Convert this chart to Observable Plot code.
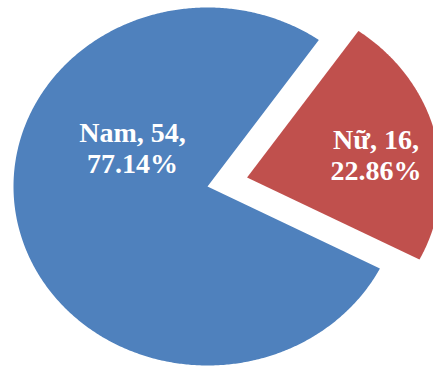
<!DOCTYPE html>
<html>
<head>
<meta charset="utf-8">
<script src="https://cdn.jsdelivr.net/npm/d3@7"></script>
<script src="https://cdn.jsdelivr.net/npm/@observablehq/plot@0.6"></script>
<style>
  html, body { margin: 0; padding: 0; background: #fff; }
  #chart svg { display: block; }
</style>
</head>
<body>
<div id="chart"></div>
<script>
// ---- data ----
const categories = ["Nam", "Nữ"];
const counts = [54, 16];
const colors = ["#4F81BD", "#C0504D"];

// ---- layout (not data) ----
const W = 433, H = 367;
const cx = 207, cy = 186;        // pie centre in pixels
const rx = 194, ry = 179;        // pixel size of one radius unit (image is slightly stretched)
const startDeg = 117.3;          // first slice starts here (clockwise from 12 o'clock)
const explode = [0, 0.21];       // explosion distance per slice, in radius units
const labelPlace = [             // label polar position relative to slice centre
  {angle: 299.4, r: 0.444},
  {angle: 79.1, r: 0.677}
];

const total = d3.sum(counts);
const pct = d3.format(".2%");
const rows = categories.map((c, i) => ({name: c, value: counts[i], i}));

const arcs = d3.pie().sort(null).value(d => d.value)
  .startAngle(startDeg * Math.PI / 180)
  .endAngle(startDeg * Math.PI / 180 + 2 * Math.PI)(rows);

// polygon outline points for each slice, in radius units
const points = [];
const labels = [];
arcs.forEach(a => {
  const d = a.data;
  const mid = (a.startAngle + a.endAngle) / 2;
  const ox = explode[d.i] * Math.sin(mid);
  const oy = explode[d.i] * Math.cos(mid);
  points.push({name: d.name, x: ox, y: oy});
  const n = Math.max(2, Math.ceil((a.endAngle - a.startAngle) / (Math.PI / 360)));
  for (let k = 0; k <= n; k++) {
    const t = a.startAngle + (a.endAngle - a.startAngle) * k / n;
    points.push({name: d.name, x: ox + Math.sin(t), y: oy + Math.cos(t)});
  }
  points.push({name: d.name, x: ox, y: oy});
  const lp = labelPlace[d.i];
  const la = lp.angle * Math.PI / 180;
  labels.push({
    name: d.name,
    x: ox + lp.r * Math.sin(la),
    y: oy + lp.r * Math.cos(la),
    text: `${d.name}, ${d.value},\n${pct(d.value / total)}`
  });
});

const chart = Plot.plot({
  width: W,
  height: H,
  margin: 0,
  style: {background: "#fff", overflow: "hidden"},
  x: {domain: [-cx / rx, (W - cx) / rx], axis: null},
  y: {domain: [(cy - H) / ry, cy / ry], axis: null},
  color: {domain: categories, range: colors},
  marks: [
    Plot.line(points, {x: "x", y: "y", z: "name", fill: "name", stroke: "none", curve: "linear"}),
    Plot.text(labels, {
      x: "x", y: "y", text: "text",
      fill: "white",
      fontSize: 28,
      fontWeight: "bold",
      fontFamily: "Liberation Serif, Times New Roman, serif",
      lineHeight: 1.12,
      textAnchor: "middle"
    })
  ]
});
document.getElementById("chart").append(chart);
</script>
</body>
</html>
